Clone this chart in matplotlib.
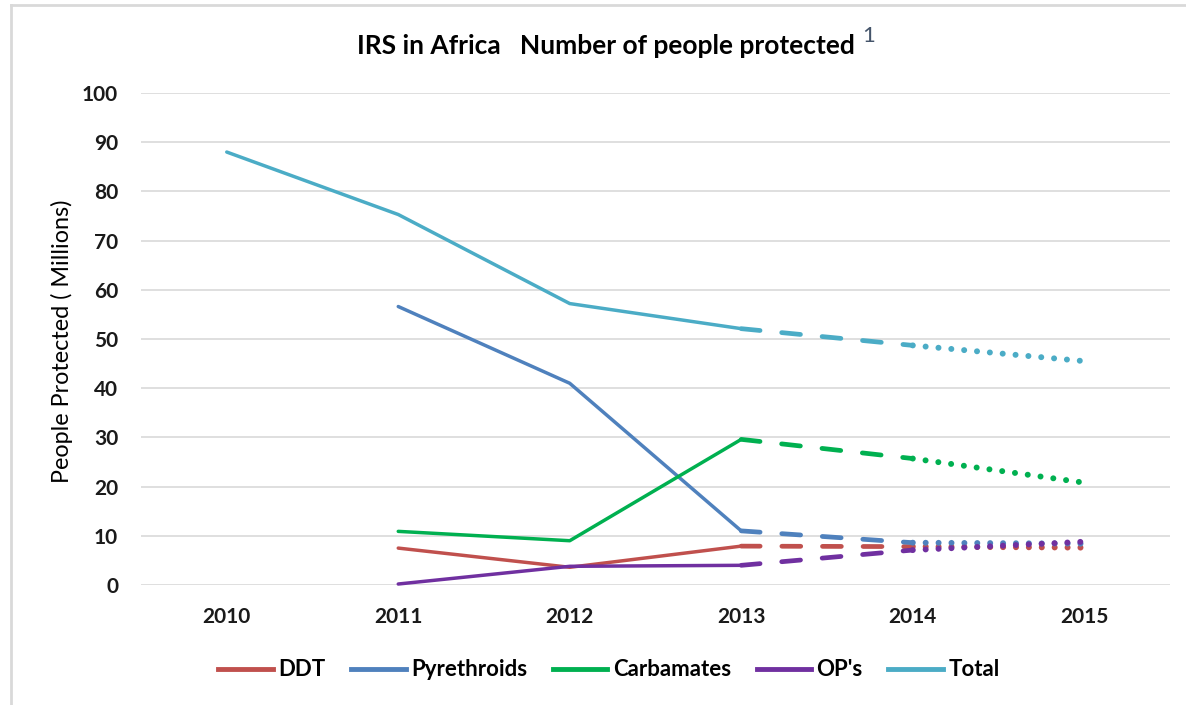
import matplotlib.pyplot as plt
from matplotlib.lines import Line2D

years = ['2010', '2011', '2012', '2013', '2014', '2015']
series = ['DDT', 'Pyrethroids', 'Carbamates', "OP's", 'Total']
ddt = [None, 7.5, 3.6, 7.9, 7.8, 7.6]
pyrethroids = [None, 56.6, 41.0, 11.0, 8.6, 8.4]
carbamates = [None, 10.9, 9.0, 29.6, 25.7, 20.8]
ops = [None, 0.2, 3.8, 4.0, 7.1, 8.8]
total = [88.0, 75.3, 57.2, 52.1, 48.7, 45.5]
colors = ['#C0504D', '#4F81BD', '#00B050', '#7030A0', '#4BACC6']

fig = plt.figure(figsize=(11.86, 7.05), dpi=100)
ax = fig.add_axes([141/1186, 120/705, 1029/1186, 492/705])

x = list(range(len(years)))
for vals, c in zip([ddt, pyrethroids, carbamates, ops, total], colors):
    # solid part: up to 2013
    xs = [i for i in x[:4] if vals[i] is not None]
    ax.plot(xs, [vals[i] for i in xs], color=c, lw=2.5,
            solid_capstyle='round', solid_joinstyle='round', clip_on=False)
    # dashed part: 2013 -> 2014
    ax.plot(x[3:5], vals[3:5], color=c, lw=3.4, dash_capstyle='round',
            dashes=(4.0, 4.6), clip_on=False)
    # dotted part: 2014 -> 2015
    ax.plot(x[4:6], vals[4:6], color=c, lw=4.3, dash_capstyle='round',
            dashes=(0.01, 2.15), clip_on=False)

ax.set_xlim(-0.5, 5.5)
ax.set_ylim(0, 100)
ax.set_yticks(range(0, 101, 10))
ax.set_xticks(x)
ax.set_xticklabels(years)
ax.tick_params(length=0, labelsize=15)
ax.tick_params(axis='y', pad=16.5)
ax.tick_params(axis='x', pad=16)
for lab in ax.get_xticklabels() + ax.get_yticklabels():
    lab.set_fontweight('bold')
    lab.set_family('Lato')
    lab.set_color('#1a1a1a')
ax.grid(axis='y', color='#d9d9d9', lw=1.2)
ax.set_axisbelow(True)
for s in ax.spines.values():
    s.set_visible(False)

fig.text(62/1186, 1 - 341/705, 'People Protected ( Millions)', rotation=90,
         ha='center', va='center', fontsize=16.8, family='Lato')
fig.text(606/1186, 1 - 46/705, 'IRS in Africa   Number of people protected',
         ha='center', va='center', fontsize=19, fontweight='bold', family='Lato')
fig.text(862/1186, 1 - 36/705, '1', ha='left', va='center', fontsize=16,
         color='#44546A', family='Lato')

handles = [Line2D([], [], color=c, lw=3.5) for c in colors]
fig.legend(handles, series, loc='center', bbox_to_anchor=(609/1186, 1 - 670/705),
           ncol=5, frameon=False, handlelength=2.45, handletextpad=0.25,
           columnspacing=1.15, prop={'family': 'Lato', 'weight': 'bold', 'size': 16})

# light frame (top and left edges visible in the reference)
fig.add_artist(Line2D([11/1186, 11/1186], [0, 1 - 5/705], transform=fig.transFigure,
                      color='#d9d9d9', lw=2))
fig.add_artist(Line2D([11/1186, 1], [1 - 5/705, 1 - 5/705], transform=fig.transFigure,
                      color='#d9d9d9', lw=2))

fig.savefig('out.png', dpi=100)
